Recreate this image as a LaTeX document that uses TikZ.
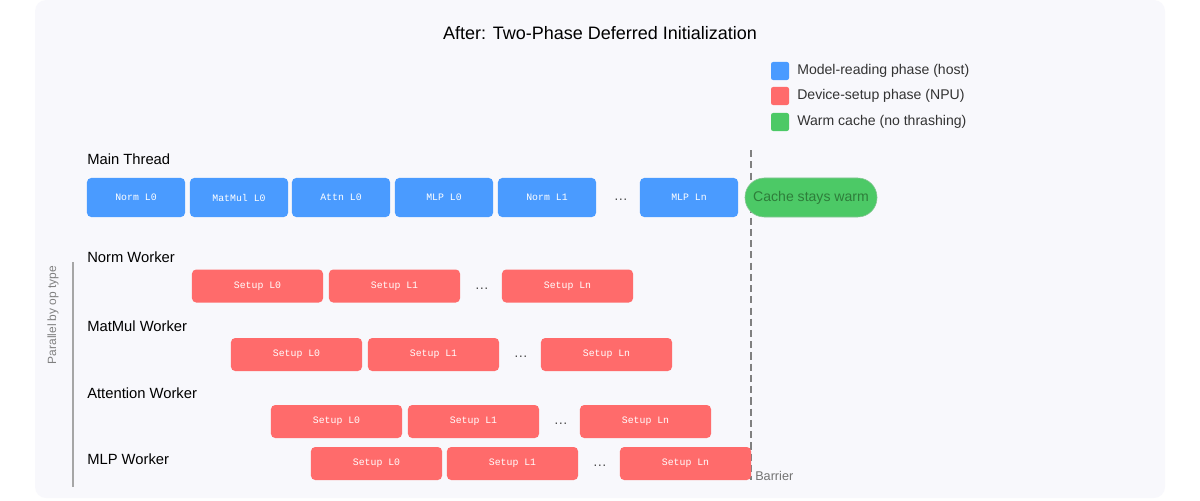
\documentclass[tikz,border=0pt]{standalone}
\usepackage{fontspec}
\setmainfont{Liberation Sans}
\setmonofont{Liberation Mono}
\begin{document}
\definecolor{bgc}{HTML}{F8F8FC}
\definecolor{bluec}{HTML}{4A9BFF}
\definecolor{redc}{HTML}{FF6B6B}
\definecolor{greenc}{HTML}{4CC966}
\definecolor{greentxt}{HTML}{2E7D3A}
\begin{tikzpicture}[x=0.025cm,y=-0.025cm,
  blu/.style={fill=bluec,draw=none,rounded corners=3pt,minimum width=2.45cm,minimum height=0.975cm,inner sep=0pt,text=white,font=\ttfamily\fontsize{7}{8}\selectfont},
  rd/.style={fill=redc,draw=none,rounded corners=3pt,minimum width=3.275cm,minimum height=0.825cm,inner sep=0pt,text=white,font=\ttfamily\fontsize{7}{8}\selectfont},
  lab/.style={anchor=west,inner sep=0pt,font=\fontsize{10.5}{12}\selectfont},
  dots/.style={inner sep=0pt,font=\fontsize{10}{12}\selectfont,text=black!70},
  leg/.style={anchor=west,inner sep=0pt,font=\fontsize{10}{12}\selectfont,text=black!80}]
\useasboundingbox[fill=white] (0,0) rectangle (1200,500);
\fill[bgc,rounded corners=8pt] (35,0) rectangle (1165,498);
\node[font=\fontsize{12.8}{15}\selectfont] (title) at (600,33) {After: Two-Phase Deferred Initialization};
% legend
\node[fill=bluec,rounded corners=1.5pt,minimum size=0.45cm,inner sep=0pt] (lb) at (780,71) {};
\node[fill=redc,rounded corners=1.5pt,minimum size=0.45cm,inner sep=0pt] (lr) at (780,96) {};
\node[fill=greenc,rounded corners=1.5pt,minimum size=0.45cm,inner sep=0pt] (lg) at (780,122) {};
\node[leg] (lbt) at (797,71) {Model-reading phase (host)};
\node[leg] (lrt) at (797,96) {Device-setup phase (NPU)};
\node[leg] (lgt) at (797,122) {Warm cache (no thrashing)};
% barrier
\coordinate (bt) at (751,150); \coordinate (bb) at (751,480);
\draw[gray,line width=1pt,dash pattern=on 5pt off 3pt] (bt) -- (bb);
\node[anchor=west,inner sep=0pt,text=gray!90!black,font=\fontsize{9}{11}\selectfont] (barrier) at (755,476) {Barrier};
% side
\coordinate (st) at (73,262); \coordinate (sb) at (73,487);
\draw[gray!70,line width=0.8pt] (st) -- (sb);
\node[rotate=90,text=gray,font=\fontsize{8.5}{10}\selectfont] (side) at (53,315) {Parallel by op type};
% main thread
\node[lab] (lmain) at (87,159) {Main Thread};
\node[blu] (m1) at (136,197.5) {Norm L0};
\node[blu] (m2) at (239,197.5) {MatMul L0};
\node[blu] (m3) at (341,197.5) {Attn L0};
\node[blu] (m4) at (444,197.5) {MLP L0};
\node[blu] (m5) at (547,197.5) {Norm L1};
\node[dots] (md) at (621,200) {\dots};
\node[blu] (m6) at (689,197.5) {MLP Ln};
\node[fill=greenc,draw=greenc!80!black!60,rounded corners=0.48cm,minimum width=3.3cm,minimum height=0.975cm,inner sep=0pt,text=greentxt,font=\fontsize{10}{12}\selectfont] (warm) at (811,197.5) {Cache stays warm};
% workers
\node[lab] (lnorm) at (87,257) {Norm Worker};
\node[rd] (n1) at (257.5,286) {Setup L0};
\node[rd] (n2) at (394.5,286) {Setup L1};
\node[dots] (nd) at (482,289) {\dots};
\node[rd] (n3) at (567.5,286) {Setup Ln};
\node[lab] (lmat) at (87,326) {MatMul Worker};
\node[rd] (a1) at (296.5,354.5) {Setup L0};
\node[rd] (a2) at (433.5,354.5) {Setup L1};
\node[dots] (ad) at (521,357) {\dots};
\node[rd] (a3) at (606.5,354.5) {Setup Ln};
\node[lab] (latt) at (87,393) {Attention Worker};
\node[rd] (t1) at (336.5,421.5) {Setup L0};
\node[rd] (t2) at (473.5,421.5) {Setup L1};
\node[dots] (td) at (561,424) {\dots};
\node[rd] (t3) at (645.5,421.5) {Setup Ln};
\node[lab] (lmlp) at (87,459) {MLP Worker};
\node[rd] (p1) at (376.5,463.5) {Setup L0};
\node[rd] (p2) at (512.5,463.5) {Setup L1};
\node[dots] (pd) at (600,466) {\dots};
\node[rd] (p3) at (685.5,463.5) {Setup Ln};
\end{tikzpicture}
\end{document}
